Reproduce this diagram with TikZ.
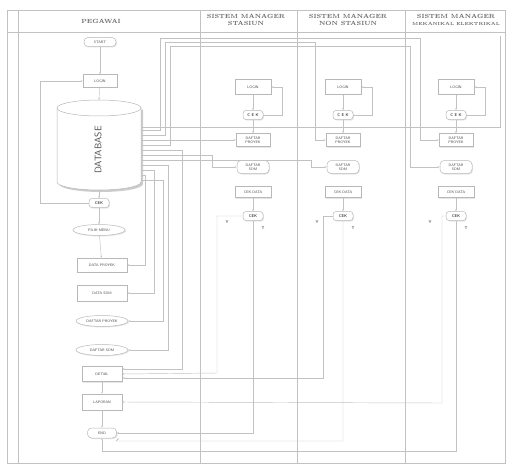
\documentclass[tikz,border=0pt]{standalone}
\usetikzlibrary{shapes.geometric,shadows,arrows.meta}
\begin{document}
\begin{tikzpicture}[x=1pt,y=-1pt,
  ln/.style={draw=black!24, line width=0.45pt},
  arr/.style={ln,-{Stealth[length=2.2pt,width=1.8pt]}},
  bx/.style={draw=black!28, fill=white, line width=0.5pt,
    drop shadow={shadow xshift=1pt,shadow yshift=-1pt,opacity=0.2},
    font=\fontsize{3.6}{4.2}\selectfont\sffamily, text=black!72, inner sep=1pt, align=center},
  sbox/.style={bx, rectangle, minimum width=36pt, minimum height=14pt},
  rbox/.style={bx, rectangle, rounded corners=4pt, minimum width=36pt, minimum height=11pt},
  obox/.style={bx, ellipse, minimum width=52pt, minimum height=11pt, inner sep=0pt},
  ckbox/.style={bx, rectangle, rounded corners=3pt, minimum width=20pt, minimum height=9pt, font=\fontsize{4}{4.5}\selectfont\sffamily\bfseries},
  hdr/.style={font=\fontsize{6}{7}\selectfont\bfseries, text=black!60, align=center},
  lab/.style={font=\fontsize{4}{4.5}\selectfont\sffamily\bfseries, text=black!65},
  dbline/.style={draw=black!28, line width=0.5pt}
]
\useasboundingbox (0,0) rectangle (508,468);
% frame and lanes
\draw[ln] (7,10) rectangle (505,463);
\draw[ln] (18,10) -- (18,463);
\draw[ln] (7,32) -- (505,32);
\foreach \x in {200,297,405} \draw[ln] (\x,10) -- (\x,463);
% headers
\node[hdr] (h1) at (101,21) {PEGAWAI};
\node[hdr] (h2) at (246,20) {SISTEM MANAGER\\STASIUN};
\node[hdr] (h3) at (348,20) {SISTEM MANAGER\\NON STASIUN};
\node[hdr] (h4) at (456,20) {SISTEM MANAGER\\{\fontsize{4.4}{5}\selectfont MEKANIKAL ELEKTRIKAL}};

% lane 1
\node[rbox, minimum width=32pt, minimum height=9pt] (start) at (100,42) {START};
\node[sbox, minimum width=34pt, minimum height=13pt] (login) at (100,81) {LOGIN};
% database cylinder
\node[rectangle, minimum width=84pt, minimum height=90pt, inner sep=0pt] (db) at (99,145) {};
\fill[black!20] (59,110) -- (59,184) arc[start angle=180,end angle=360,x radius=42pt,y radius=8pt] -- (143,110) -- cycle;
\fill[white] (57,108) -- (57,182) arc[start angle=180,end angle=360,x radius=42pt,y radius=8pt] -- (141,108) -- cycle;
\draw[dbline] (57,108) -- (57,182) arc[start angle=180,end angle=360,x radius=42pt,y radius=8pt] -- (141,108);
\draw[dbline, fill=white] (99,108) ellipse [x radius=42pt, y radius=8pt];
\node[rotate=90, font=\fontsize{9.5}{10}\selectfont\sffamily, text=black!70] (dbl) at (98,150) {DATABASE};
\node[ckbox] (cek) at (99,203) {CEK};
\node[obox] (menu) at (99,230) {PILIH MENU};
\node[sbox, minimum width=50pt] (dpro) at (102,265) {DATA PROYEK};
\node[sbox, minimum width=50pt, minimum height=16pt] (dsdm) at (102,293) {DATA SDM};
\node[obox] (fpro) at (102,321) {DAFTAR PROYEK};
\node[obox] (fsdm) at (102,350) {DAFTAR SDM};
\node[sbox, minimum width=40pt, minimum height=15pt] (detail) at (102,374) {DETAIL};
\node[sbox, minimum width=40pt, minimum height=16pt] (lap) at (102,402) {LAPORAN};
\node[rbox, minimum width=29pt, minimum height=10pt] (end) at (102,433) {END};

\draw[arr] (start) -- (login);
\draw[arr] (login) -- (db.north);
\draw[arr] (db.south) -- (cek);
\draw[arr] (cek) -- (menu);
\draw[arr] (menu) -- (dpro);
\draw[arr] (cek.west) -- (40,203) |- (login.west);
\draw[arr] (detail) -- (lap);
\draw[arr] (lap) -- (end);

% right lanes
\foreach \i/\cx in {2/253,3/343,4/456}{
  \node[sbox, minimum width=36pt, minimum height=15pt] (login\i) at (\cx,87) {LOGIN};
  \node[ckbox] (cka\i) at (\cx,115) {C E K};
  \node[sbox, minimum width=34pt, minimum height=13pt] (dp\i) at (\cx,140) {DAFTAR\\PROYEK};
  \node[rbox, minimum width=32pt, minimum height=13pt] (ds\i) at (\cx,167) {DAFTAR\\SDM};
  \node[sbox, minimum width=36pt, minimum height=11pt] (cd\i) at (\cx,192) {CEK DATA};
  \node[ckbox] (ckb\i) at (\cx,216) {CEK};
  \node[lab] (y\i) at (\cx-26,222) {Y};
  \node[lab] (t\i) at (\cx+10,228) {T};
  \draw[arr] (login\i) -- (cka\i);
  \draw[arr] (cka\i) -- (dp\i);
  \draw[arr] (cka\i.east) -- ++(19,0) |- (login\i.east);
  \draw[arr] (cd\i) -- (ckb\i);
}

% database feeding the lanes
\coordinate (a1) at (141,127);
\coordinate (a2) at (141,130);
\coordinate (a3) at (141,135);
\coordinate (a4) at (141,140);
\coordinate (a5) at (141,145);
\coordinate (a6) at (141,155);
\coordinate (a7) at (141,160);
\coordinate (e1) at (500,36);
\draw[ln] (a1) -- (500,127) -- (e1);
\draw[arr] (a2) -- (160,130) |- (420,38) |- (dp4.west);
\draw[arr] (a3) -- (165,135) |- (315,42) |- (dp3.west);
\draw[arr] (a4) -- (dp2.west);
\draw[arr] (a5) -- (170,145) |- (410,46) |- (ds4.west);
\draw[arr] (a6) -- (212,155) |- (ds2.west);
\draw[arr] (a7) -- (311,160) |- (ds3.west);

% database feeding lane 1 boxes
\coordinate (b1) at (141,150);
\coordinate (b2) at (141,165);
\coordinate (b3) at (141,170);
\coordinate (b4) at (141,175);
\coordinate (b5) at (141,180);
\draw[arr] (b4) -- (145,175) |- (dpro.east);
\draw[arr] (b3) -- (154,170) |- (dsdm.east);
\draw[arr] (b5) -- (163,180) |- (fpro.east);
\draw[arr] (b2) -- (168,165) |- (fsdm.east);
\draw[arr] (b1) -- (182,150) |- ([yshift=5pt]detail.east);

% lane results back to lane 1
\draw[arr] (ckb2.west) -| (217,373) -- (detail.east);
\draw[arr] (ckb3.west) -| (323,378) -- ([yshift=-4pt]detail.east);
\draw[arr] (ckb4.west) -| (442,403) -- (lap.east);
\draw[arr] (ckb2.south) |- (end.east);
\draw[arr] (ckb3.south) |- (116,441) -- ([xshift=2pt]end.south east);
\draw[arr] (ckb4.south) |- (102,451) -- (end.south);
\end{tikzpicture}
\end{document}
